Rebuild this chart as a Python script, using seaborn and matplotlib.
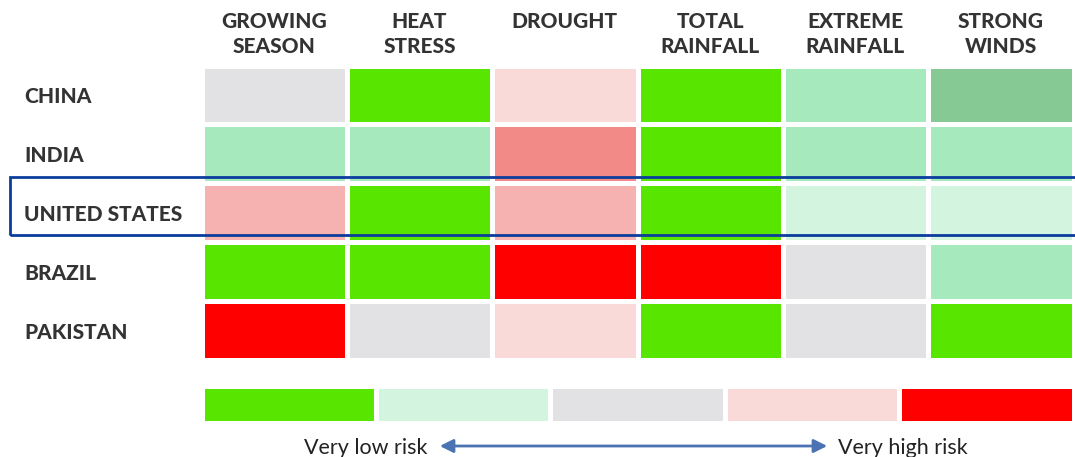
import numpy as np
import pandas as pd
import seaborn as sns
import matplotlib.pyplot as plt
from matplotlib.colors import ListedColormap, BoundaryNorm
from matplotlib.patches import Rectangle, FancyArrowPatch

# Risk categories (rows) and hazards (columns)
countries = ["CHINA", "INDIA", "UNITED STATES", "BRAZIL", "PAKISTAN"]
hazards = ["GROWING\nSEASON", "HEAT\nSTRESS", "DROUGHT", "TOTAL\nRAINFALL",
           "EXTREME\nRAINFALL", "STRONG\nWINDS"]

# Risk level on a 0 (very low) .. 8 (very high) scale
china = [4, 0, 5, 0, 2, 1]
india = [2, 2, 7, 0, 2, 2]
united_states = [6, 0, 6, 0, 3, 3]
brazil = [0, 0, 8, 8, 4, 2]
pakistan = [8, 4, 5, 0, 4, 0]

# Legend steps shown under the grid
legend_levels = [0, 3, 4, 5, 8]
legend_low = "Very low risk"
legend_high = "Very high risk"

level_colors = ["#58e500", "#86c995", "#a6e9bd", "#d3f4de", "#e2e2e4",
                "#fad9d9", "#f6b1b1", "#f28b88", "#ff0000"]
cmap = ListedColormap(level_colors)
norm = BoundaryNorm(np.arange(-0.5, len(level_colors) + 0.5, 1), cmap.N)

df = pd.DataFrame([china, india, united_states, brazil, pakistan],
                  index=countries, columns=hazards)

sns.set_theme(style="white")
plt.rcParams["font.family"] = ["Lato", "DejaVu Sans"]
text_color = "#333333"
label_weight = 900

W, H = 1075, 457
fig = plt.figure(figsize=(W / 100, H / 100), dpi=100)

# Main grid
ax = fig.add_axes([201.5 / W, 1 - 359.5 / H, 872 / W, 294 / H])
sns.heatmap(df, ax=ax, cmap=cmap, norm=norm, cbar=False,
            linewidths=2.2, linecolor="white",
            xticklabels=False, yticklabels=False)
ax.set_xlabel("")
ax.set_ylabel("")
to_fig = fig.transFigure.inverted()

# Column headers, top aligned above each column
for j, name in enumerate(hazards):
    x_fig = to_fig.transform(ax.transData.transform((j + 0.5, 0)))[0]
    fig.text(x_fig, 1 - 12 / H, name, fontsize=15, fontweight=label_weight,
             color=text_color, ha="center", va="top", linespacing=1.35)

# Row labels, left aligned
for i, name in enumerate(countries):
    y_fig = to_fig.transform(ax.transData.transform((0, i + 0.5)))[1]
    fig.text(24 / W, y_fig - 2 / H, name, fontsize=15, fontweight=label_weight,
             color=text_color, ha="left", va="center")

# Highlight box around the United States row
fig.patches.append(Rectangle((10 / W, 1 - 235 / H), 1.0, (235 - 177) / H,
                             transform=fig.transFigure, fill=False,
                             edgecolor="#0b3d9c", linewidth=2.0, zorder=10))

# Legend strip
lax = fig.add_axes([201.5 / W, 1 - 422.5 / H, 872 / W, 37 / H])
sns.heatmap(pd.DataFrame([legend_levels]), ax=lax, cmap=cmap, norm=norm,
            cbar=False, linewidths=2.2, linecolor="white",
            xticklabels=False, yticklabels=False)
lax.set_xlabel("")
lax.set_ylabel("")

# Arrow with end labels
arrow_y = 1 - 446 / H
fig.patches.append(FancyArrowPatch(
    (437 / W, arrow_y), (830 / W, arrow_y), transform=fig.transFigure,
    arrowstyle="<|-|>", mutation_scale=20, color="#4a73b3", linewidth=2.0))
fig.text(427 / W, 1 - 448 / H, legend_low, fontsize=15.5, color="#222222",
         ha="right", va="center")
fig.text(838 / W, 1 - 448 / H, legend_high, fontsize=15.5, color="#222222",
         ha="left", va="center")

fig.savefig("out.png", dpi=100, facecolor="white")
